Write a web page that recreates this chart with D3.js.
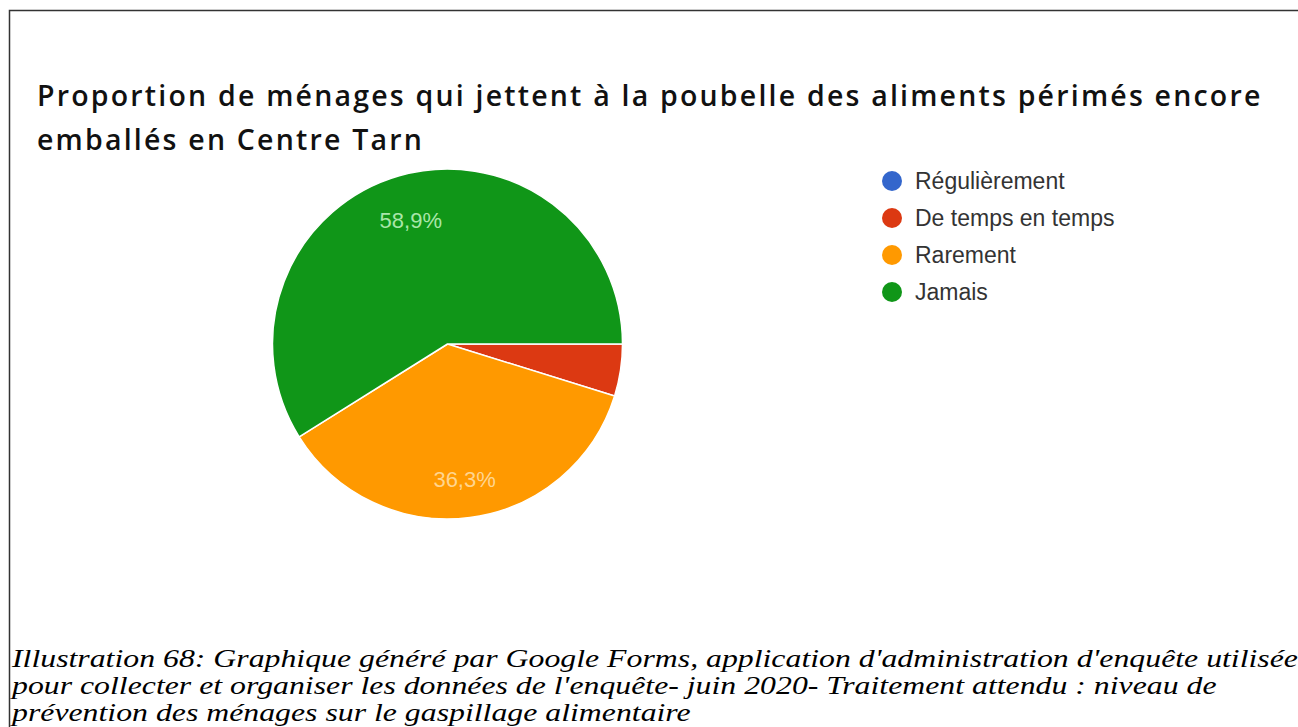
<!DOCTYPE html>
<html lang="fr">
<head>
<meta charset="utf-8">
<script src="https://cdn.jsdelivr.net/npm/d3@7"></script>
<style>
  html, body { margin: 0; padding: 0; background: #fff; }
  svg { display: block; }
</style>
</head>
<body>
<svg id="chart" width="1298" height="727"></svg>
<script>
// Réponses à la question sur les aliments périmés encore emballés (en %)
const categories = ["Régulièrement", "De temps en temps", "Rarement", "Jamais"];
const values = [0, 4.8, 36.3, 58.9];
const colors = ["#3366cc", "#dc3912", "#ff9900", "#109618"];
const labelColors = ["#b3c6ef", "#f3b8a8", "#ffd58f", "#a9e6a9"];

const titleLines = [
  "Proportion de ménages qui jettent à la poubelle des aliments périmés encore",
  "emballés en Centre Tarn"
];
const captionLines = [
  "Illustration 68: Graphique généré par Google Forms, application d'administration d'enquête utilisée",
  "pour collecter et organiser les données de l'enquête- juin 2020- Traitement attendu : niveau de",
  "prévention des ménages sur le gaspillage alimentaire"
];

const svg = d3.select("#chart");
const W = 1298, H = 727;

// cadre (haut et gauche)
svg.append("path")
  .attr("d", `M9.5,${H} L9.5,10.5 L${W},10.5`)
  .attr("fill", "none")
  .attr("stroke", "#333")
  .attr("stroke-width", 1.5);

// titre
svg.append("g").selectAll("text")
  .data(titleLines)
  .join("text")
  .attr("x", 37)
  .attr("y", (d, i) => 106 + i * 44)
  .attr("font-family", "'Open Sans', sans-serif")
  .attr("font-weight", 600)
  .attr("font-size", 28.5)
  .attr("letter-spacing", 2.2)
  .attr("fill", "#111")
  .text(d => d);

// camembert
const cx = 447.5, cy = 344, R = 175;
const pie = d3.pie()
  .sort(null)
  .value(d => d.value)
  .startAngle(Math.PI / 2)
  .endAngle(Math.PI / 2 + 2 * Math.PI);
const data = categories.map((c, i) => ({ name: c, value: values[i], color: colors[i], lab: labelColors[i] }));
const arcs = pie(data);
const arc = d3.arc().innerRadius(0).outerRadius(R);
const labelArc = d3.arc().innerRadius(R * 0.76).outerRadius(R * 0.76);

const g = svg.append("g").attr("transform", `translate(${cx},${cy})`);
g.selectAll("path")
  .data(arcs.filter(a => a.data.value > 0))
  .join("path")
  .attr("d", arc)
  .attr("fill", d => d.data.color)
  .attr("stroke", "#fff")
  .attr("stroke-width", 1.5)
  .attr("stroke-linejoin", "round");

const fmt = v => d3.format(".1f")(v).replace(".", ",") + "%";
g.selectAll("text")
  .data(arcs.filter(a => a.data.value >= 10))
  .join("text")
  .attr("transform", d => `translate(${labelArc.centroid(d)})`)
  .attr("text-anchor", "middle")
  .attr("dy", "0.52em")
  .attr("font-family", "'Liberation Sans', Arial, sans-serif")
  .attr("font-size", 22)
  .attr("fill", d => d.data.lab)
  .text(d => fmt(d.data.value));

// légende
const legend = svg.append("g").attr("transform", "translate(892,181)");
const item = legend.selectAll("g")
  .data(data)
  .join("g")
  .attr("transform", (d, i) => `translate(0,${i * 37})`);
item.append("circle")
  .attr("r", 10)
  .attr("fill", d => d.color);
item.append("text")
  .attr("x", 23)
  .attr("dy", "0.36em")
  .attr("font-family", "'Liberation Sans', Arial, sans-serif")
  .attr("font-size", 23)
  .attr("fill", "#333")
  .text(d => d.name);

// légende de l'illustration (texte élargi horizontalement)
svg.append("g")
  .attr("transform", "translate(12,0) scale(1.272,1)")
  .selectAll("text")
  .data(captionLines)
  .join("text")
  .attr("x", 0)
  .attr("y", (d, i) => 667 + i * 27)
  .attr("font-family", "'Liberation Serif', 'Times New Roman', serif")
  .attr("font-style", "italic")
  .attr("font-size", 25)
  .attr("fill", "#000")
  .text(d => d);
</script>
</body>
</html>
